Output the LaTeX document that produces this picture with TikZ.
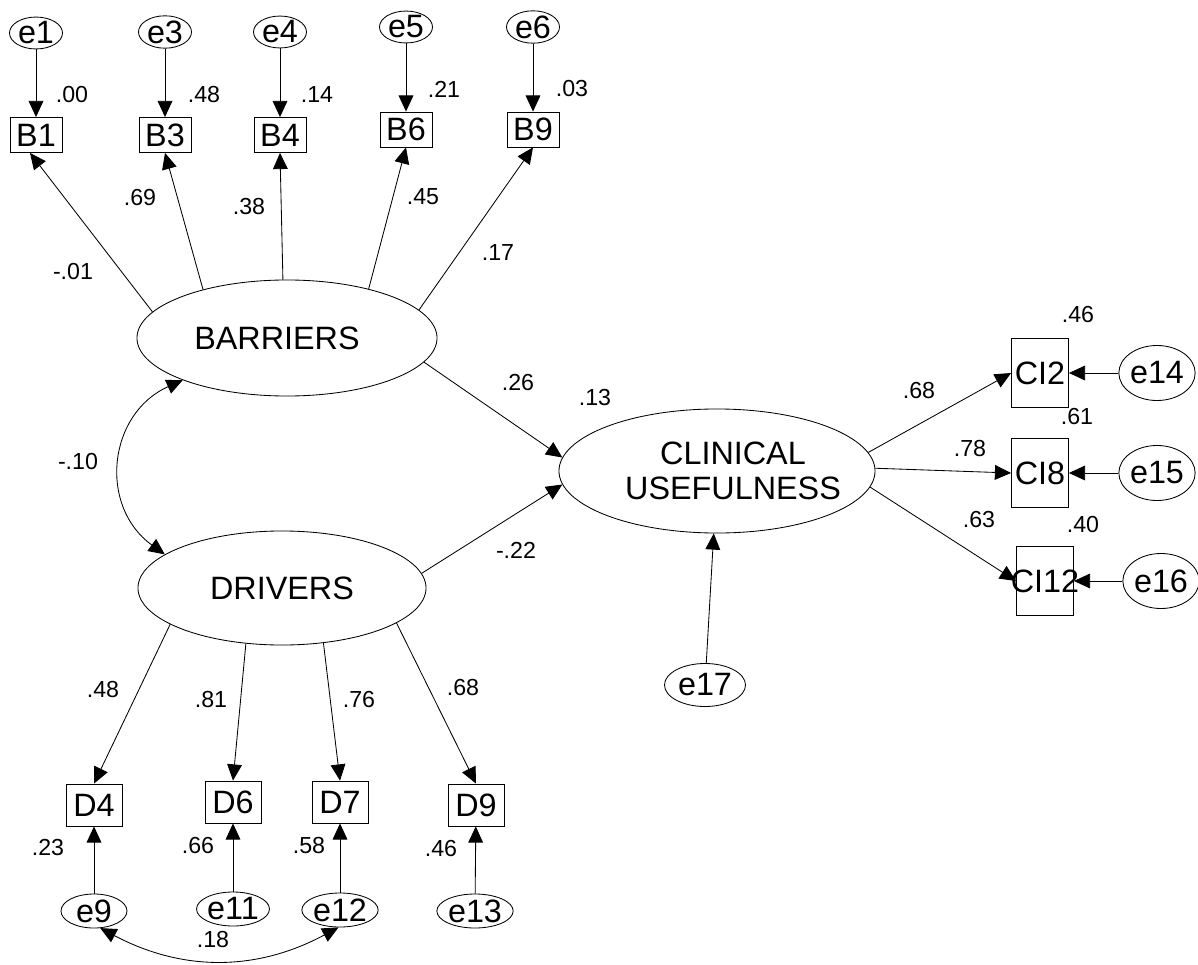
\documentclass[tikz,border=0pt]{standalone}
\usepackage{fontspec}
\setmainfont{Liberation Sans}
\usetikzlibrary{arrows.meta,shapes.geometric}
\tikzset{
	%Define standard arrow tip
	>={Triangle[length=11.5pt,width=10.5pt]},
	%Define style for observed items
	boks/.style={
		rectangle,
		draw=black, line width=0.6pt,
		minimum width=1.3cm,
		minimum height=0.875cm,
		inner sep=0pt,
		font=\fontsize{23}{26}\selectfont},
	% boxes of the drivers
	dboks/.style={boks, minimum width=1.4cm, minimum height=1.05cm},
	% tall boxes on the right
	hoej/.style={boks, minimum width=1.425cm, minimum height=1.725cm},
	% Define style for error terms
	fejl/.style={
		ellipse,
		draw=black, line width=0.6pt,
		minimum width=1.325cm,
		minimum height=0.75cm,
		inner sep=0pt,
		font=\fontsize{23}{26}\selectfont},
	fejlbund/.style={fejl, minimum width=1.65cm, minimum height=0.85cm},
	rund/.style={fejl, minimum width=1.375cm, minimum height=1.375cm},
	% latent factors
	latent/.style={
		ellipse,
		draw=black, line width=0.6pt,
		minimum width=7.5cm,
		minimum height=2.9cm,
		inner sep=0pt,
		align=center,
		font=\fontsize{23}{25}\selectfont},
	% numbers on the paths
	tal/.style={inner sep=0pt, font=\fontsize{16.5}{19}\selectfont},
	% Define arrow style
	pil/.style={
		->,
		line width=0.6pt}
}
\begin{document}
\begin{tikzpicture}[x=0.025cm, y=-0.025cm]
\useasboundingbox (0,0) rectangle (1198,965);
% latent factors
\node[latent] (barriers) at (287,338) {BARRIERS\hspace*{0.5cm}};
\node[latent, minimum width=7.2cm, minimum height=2.85cm] (drivers) at (282,588) {DRIVERS};
\node[latent, minimum width=7.9cm, minimum height=3.1cm, inner sep=-0.6cm]
	(clinical) at (717,471) {\hspace*{0.8cm}CLINICAL\\\hspace*{0.8cm}USEFULNESS};
% barrier items and their errors
\node[boks] (b1) at (36,135) {B1};
\node[boks] (b3) at (165,135) {B3};
\node[boks] (b4) at (280,135) {B4};
\node[boks] (b6) at (406,129.5) {B6};
\node[boks] (b9) at (533,129.5) {B9};
\node[fejl] (e1) at (36,33) {e1};
\node[fejl] (e3) at (165,32) {e3};
\node[fejl] (e4) at (280,32) {e4};
\node[fejl] (e5) at (406,27) {e5};
\node[fejl] (e6) at (533,27) {e6};
% driver items and their errors
\node[dboks] (d4) at (94,805) {D4};
\node[dboks] (d6) at (233,802) {D6};
\node[dboks] (d7) at (340,802) {D7};
\node[dboks] (d9) at (476,805) {D9};
\node[fejlbund] (e9) at (94,911) {e9};
\node[fejlbund] (e11) at (233,909) {e11};
\node[fejlbund] (e12) at (340,910) {e12};
\node[fejlbund] (e13) at (475,911) {e13};
% usefulness items and their errors
\node[hoej] (ci2) at (1040,373) {\makebox[0pt]{CI2}};
\node[hoej] (ci8) at (1040,473) {\makebox[0pt]{CI8}};
\node[hoej] (ci12) at (1045,581) {\makebox[0pt]{CI12}};
\node[rund] (e14) at (1157,373) {e14};
\node[rund] (e15) at (1157,473) {e15};
\node[rund] (e16) at (1161,581) {e16};
\node[fejl, minimum width=2.025cm, minimum height=1.075cm] (e17) at (705,685) {e17};
% error paths
\foreach \e/\i in {e1/b1, e3/b3, e4/b4, e5/b6, e6/b9, e9/d4, e11/d6, e12/d7, e13/d9, e14/ci2, e15/ci8, e16/ci12}
	\draw[pil] (\e) -- (\i);
\draw[pil] (e17) -- (clinical.267);
% loadings
\draw[pil] (barriers.169) -- ([xshift=-0.15cm]b1.south);
\draw[pil] (barriers.150) -- (b3.south);
\draw[pil] (barriers.94) -- (b4.south);
\draw[pil] (barriers.31) -- (b6.south);
\draw[pil] (barriers.12) -- (b9.south);
\draw[pil] (drivers.198) -- (d4.north);
\draw[pil] (drivers.237) -- (d6.north);
\draw[pil] (drivers.307) -- (d7.north);
\draw[pil] (drivers.343) -- (d9.north);
\draw[pil] (clinical.7) -- (ci2.west);
\draw[pil] (clinical.1) -- (ci8.west);
\draw[pil] (clinical.354) -- (ci12.west);
% structural paths
\draw[pil] (barriers.350) -- (clinical.175);
\draw[pil] (drivers.6) -- (clinical.185);
% covariances
\draw[pil, <->] (barriers.202) to[bend right=60, looseness=1.2] (drivers.164);
\draw[pil, <->] (e9.290) to[bend right=28] (e12.265);
% numbers
\node[tal] (r1) at (72,95) {.00};
\node[tal] (r3) at (204,95) {.48};
\node[tal] (r4) at (317,95) {.14};
\node[tal] (r6) at (444,89) {.21};
\node[tal] (r9) at (572,89) {.03};
\node[tal] (w1) at (73,272) {-.01};
\node[tal] (w3) at (140,198) {.69};
\node[tal] (w4) at (249,207) {.38};
\node[tal] (w6) at (423,197) {.45};
\node[tal] (w9) at (498,253) {.17};
\node[tal] (cov1) at (78,462) {-.10};
\node[tal] (g1) at (518,383) {.26};
\node[tal] (g2) at (516,550) {-.22};
\node[tal] (r0) at (595,398) {.13};
\node[tal] (w12) at (919,391) {.68};
\node[tal] (w13) at (970,449) {.78};
\node[tal] (w14) at (979,520) {.63};
\node[tal] (r12) at (1078,315) {.46};
\node[tal] (r13) at (1077,417) {.61};
\node[tal] (r14) at (1083,525) {.40};
\node[tal] (v4) at (103,690) {.48};
\node[tal] (v6) at (211,700) {.81};
\node[tal] (v7) at (359,700) {.76};
\node[tal] (v9) at (463,688) {.68};
\node[tal] (s4) at (48,848) {.23};
\node[tal] (s6) at (198,846) {.66};
\node[tal] (s7) at (309,846) {.58};
\node[tal] (s9) at (441,849) {.46};
\node[tal] (cov2) at (213,940) {.18};
\end{tikzpicture}
\end{document}
